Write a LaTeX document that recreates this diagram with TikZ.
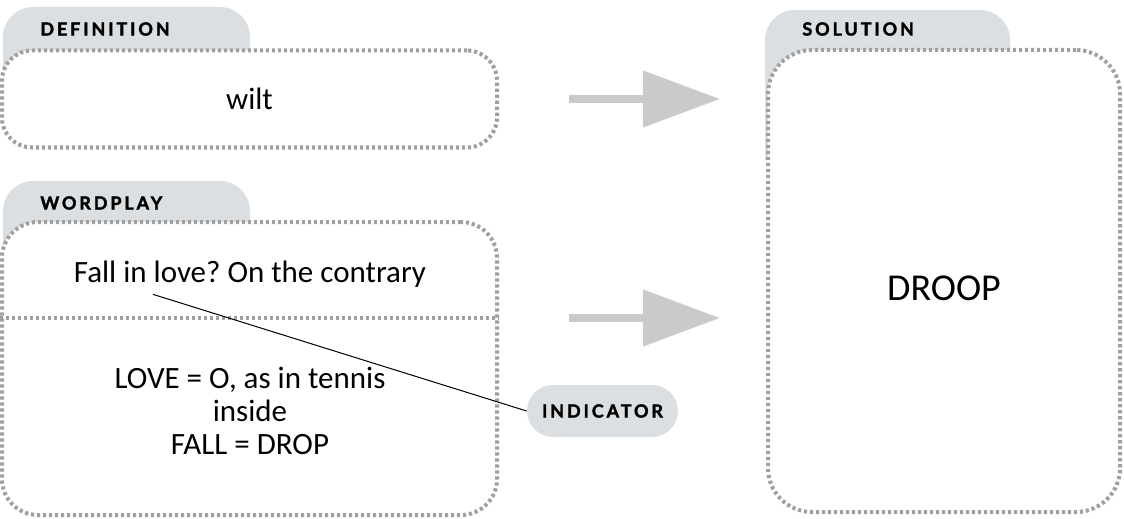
\documentclass[tikz,border=0pt]{standalone}
\usepackage{fontspec}
\setmainfont{Carlito}
\newfontfamily\tabfont{Lato}[LetterSpace=16,BoldFeatures={FakeBold=2}]
\usetikzlibrary{arrows.meta,calc}
\definecolor{tabgray}{HTML}{DCDFE2}
\definecolor{dotgray}{HTML}{A0A0A0}
\definecolor{arrowgray}{HTML}{C8CACC}
\frenchspacing

\begin{document}
\begin{tikzpicture}[x=0.5pt,y=-0.5pt,
    tab/.style={fill=tabgray,rounded corners=15pt},
    tabfont/.style={font=\tabfont\bfseries\fontsize{9}{10}\selectfont},
    tablabel/.style={tabfont,anchor=west,inner sep=0pt},
    dotbox/.style={draw=dotgray,fill=white,line width=2pt,dash pattern=on 1.6pt off 1.4pt},
    body/.style={font=\fontsize{15.5}{16.5}\selectfont},
    bigarrow/.style={arrowgray,line width=4pt,-{Triangle[length=38.5pt 0,width=27.5pt 0]}}]
    \useasboundingbox (0,0) rectangle (1124,519);
    \fill[tab] (3,110) -- (3,7) -- (250,7) -- (250,110);
    \fill[tab] (3,290) -- (3,181) -- (250,181) -- (250,290);
    \fill[tab] (765,160) -- (765,10) -- (1010,10) -- (1010,160);
    \node[tablabel] (deflabel) at (40,29) {DEFINITION};
    \node[tablabel] (wordlabel) at (40,203) {WORDPLAY};
    \node[tablabel] (sollabel) at (802,29) {SOLUTION};
    \node[dotbox,body,rounded corners=15pt,minimum width=247.5pt,minimum height=48.5pt] (defbox) at (249.5,99) {wilt};
    \node[dotbox,rounded corners=18pt,minimum width=247.5pt,minimum height=146.5pt] (wordbox) at (249.5,368.5) {};
    \node[dotbox,rounded corners=22pt,minimum width=176pt,minimum height=231pt,text height=19.5pt,text depth=0pt,
      font=\fontsize{19}{22}\selectfont] (solbox) at (944,281) {DROOP};
    \coordinate (split) at (wordbox.east |- 0,318);
    \draw[dotbox] (wordbox.west |- split) -- (split);
    \node[body] (fall) at (250,274) {Fall in love? On the contrary};
    \node[body,align=center] (clue) at (250,411) {LOVE = O, as in tennis\\inside\\FALL = DROP};
    \node[tabfont,fill=tabgray,rounded corners=13pt,minimum width=75.5pt,minimum height=26pt] (ind) at (602.5,411) {INDICATOR};
    \draw[line width=0.5pt] ($(fall.south west)!.235!(fall.south east)$) -- (ind.west);
    \draw[bigarrow,shorten <=35pt,shorten >=23pt] (defbox.east) -- (defbox.east -| solbox.west);
    \draw[bigarrow,shorten <=35pt,shorten >=23pt] (split) -- (split -| solbox.west);
\end{tikzpicture}
\end{document}
